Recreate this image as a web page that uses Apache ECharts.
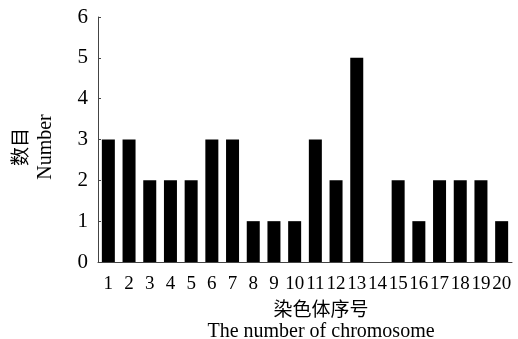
<!DOCTYPE html>
<html>
<head>
<meta charset="utf-8">
<script src="https://cdn.jsdelivr.net/npm/echarts@6/dist/echarts.min.js"></script>
<style>
html,body{margin:0;padding:0;background:#fff;}
#chart{width:518px;height:339px;}
</style>
</head>
<body>
<div id="chart"></div>
<script>
var categories = ['1','2','3','4','5','6','7','8','9','10','11','12','13','14','15','16','17','18','19','20'];
var counts = [3,3,2,2,2,3,3,1,1,1,3,2,5,0,2,1,2,2,2,1];
var yTicks = [0,1,2,3,4,5,6];
var xNameCn = '染色体序号';
var xNameEn = 'The number of chromosome';
var yNameCn = '数目';
var yNameEn = 'Number';

var serif = '"Liberation Serif","Times New Roman",serif';
var cjk = '"Noto Sans CJK SC","Liberation Serif",serif';

var chart = echarts.init(document.getElementById('chart'), null, {renderer:'canvas'});
chart.setOption({
  animation: false,
  backgroundColor: '#fff',
  grid: {left: 98, right: 6, top: 17, bottom: 77, containLabel: false, outerBoundsMode: 'none'},
  xAxis: {
    type: 'category',
    data: categories,
    axisLine: {lineStyle: {color: '#444', width: 1}},
    axisTick: {show: false},
    axisLabel: {color: '#000', fontFamily: serif, fontSize: 19, margin: 13, interval: 0},
    name: '{a|' + xNameCn + '}\n{b|' + xNameEn + '}',
    nameLocation: 'middle',
    nameGap: 35,
    nameTextStyle: {
      padding: [0, 0, 0, 32],
      rich: {
        a: {fontFamily: cjk, fontSize: 19, color: '#000', lineHeight: 23},
        b: {fontFamily: serif, fontSize: 20, color: '#000', lineHeight: 24}
      }
    }
  },
  yAxis: {
    type: 'value',
    min: yTicks[0],
    max: yTicks[yTicks.length - 1],
    interval: 1,
    splitLine: {show: false},
    axisLine: {show: true, lineStyle: {color: '#444', width: 1}},
    axisTick: {show: true, inside: true, length: 3, lineStyle: {color: '#444'}},
    axisLabel: {color: '#000', fontFamily: serif, fontSize: 21, margin: 10},
    name: '{a|' + yNameCn + '}\n{b|' + yNameEn + '}',
    nameLocation: 'middle',
    nameGap: 39,
    nameTextStyle: {
      padding: [0, 15, 0, 0],
      rich: {
        a: {fontFamily: cjk, fontSize: 19, color: '#000', lineHeight: 26},
        b: {fontFamily: serif, fontSize: 20, color: '#000', lineHeight: 26}
      }
    }
  },
  series: [{
    type: 'bar',
    data: counts,
    barWidth: 13,
    itemStyle: {color: '#000'}
  }]
});
</script>
</body>
</html>
